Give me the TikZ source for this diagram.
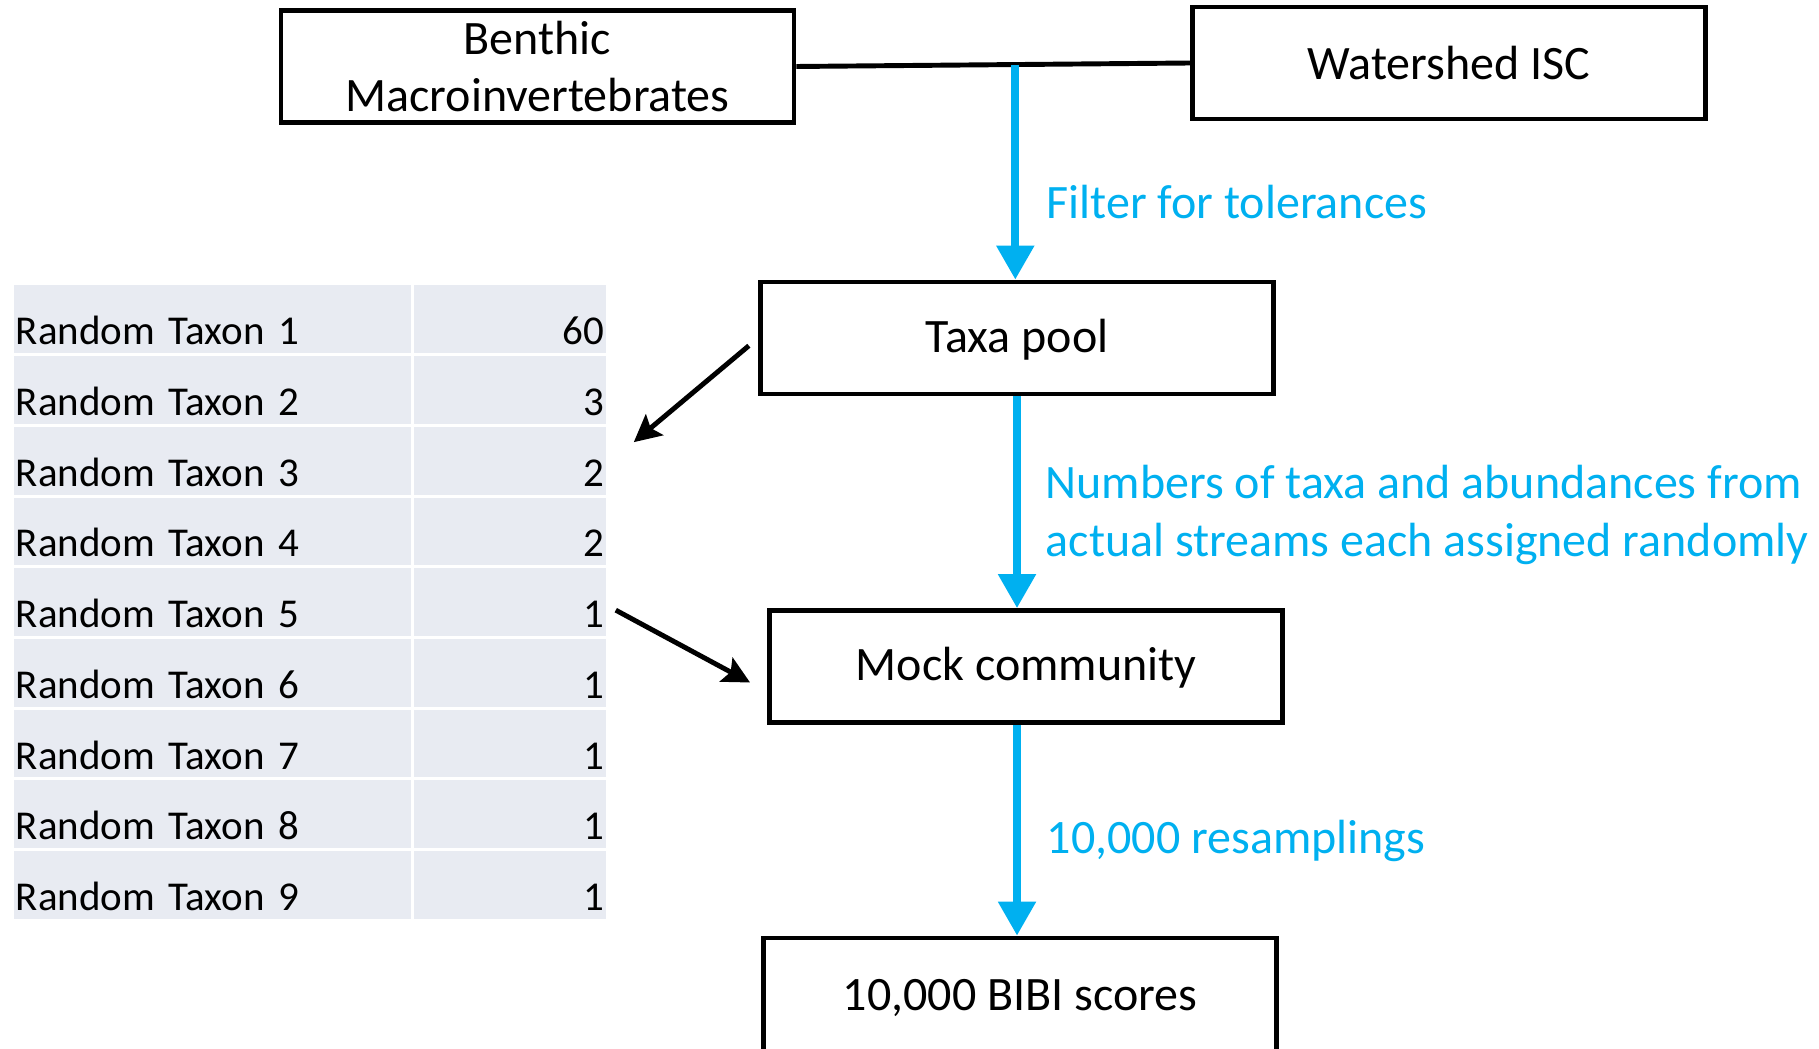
\documentclass[tikz,border=0pt]{standalone}
\usepackage{fontspec}
\setmainfont{Carlito}
\usepackage{tikz}
\usetikzlibrary{arrows.meta, positioning, calc}
\definecolor{flow-blue}{HTML}{00B0F0}
\definecolor{cell-gray}{HTML}{E8EBF2}

\begin{document}
\begin{tikzpicture}[
    x=0.01cm, y=-0.01cm,
    box/.style={draw, line width=1.3pt, minimum width=5.13cm, minimum height=1.12cm, inner sep=0pt, align=center, font=\fontsize{13.65}{16.3}\selectfont},
    low/.style={text depth=0.05cm},
    cell/.style={fill=cell-gray, minimum height=0.677cm, inner xsep=0.02cm, inner ysep=0pt, text height=0.55cm, text depth=0.04cm, font=\fontsize{11.65}{14}\selectfont},
    taxcell/.style={cell, text width=3.93cm, align=left},
    numcell/.style={cell, text width=1.88cm, align=right},
    flow/.style={-{Triangle[width=0.36cm, length=0.34cm]}, line width=2.3pt, draw=flow-blue},
    push/.style={-{Stealth[width=0.27cm, length=0.27cm, inset=0.05cm]}, line width=1.4pt},
    lbl/.style={anchor=west, align=left, text=flow-blue, inner sep=0pt, font=\fontsize{13.65}{16.3}\selectfont}
]
    \useasboundingbox (0,0) rectangle (1819,1049);

    % Inputs
    \node (benthic) [box] at (537.5, 66.5) {Benthic\\Macroinvertebrates};
    \node (isc) [box] at (1449, 63) {Watershed ISC};
    \draw[line width=1.4pt] (benthic.east) -- (isc.west);
    \coordinate (join) at ($(benthic.east)!0.556!(isc.west)$);

    % Main flow
    \node (pool) [box, low] at (1017, 338) {Taxa pool};
    \node (mock) [box, low] at (1026, 666.5) {Mock community};
    \node (bibi) [box, low, minimum height=1.18cm] at (1020, 997) {10,000 BIBI scores};

    \draw[flow] (join) -- (join |- pool.north);
    \draw[flow] (pool.south) -- (pool.south |- mock.north);
    \draw[flow] (pool.south |- mock.south) -- (pool.south |- bibi.north);

    \node (filter) [lbl] at (1046, 202) {Filter for tolerances};
    \node (assign) [lbl] at (1045, 515) {Numbers of taxa and abundances from\\actual streams each assigned randomly};
    \node (resample) [lbl] at (1046, 840.5) {10,000 resamplings};

    % Random draw table
    \foreach \n [count=\j] in {60,3,2,2,1,1,1,1,1} {
        \node (t\j) [taxcell] at (212.5, 248.65+\j*70.7) {Random Taxon \j};
        \node (c\j) [numcell] at (510, 248.65+\j*70.7) {\n};
    }

    % Draw in / out of the table
    \draw[push, shorten <=0.12cm] (pool.west) -- ([shift={(27,16)}]c3.north east);
    \draw[push] ([shift={(9,8)}]c5.east) -- ([shift={(-17,16)}]mock.west);
\end{tikzpicture}
\end{document}
